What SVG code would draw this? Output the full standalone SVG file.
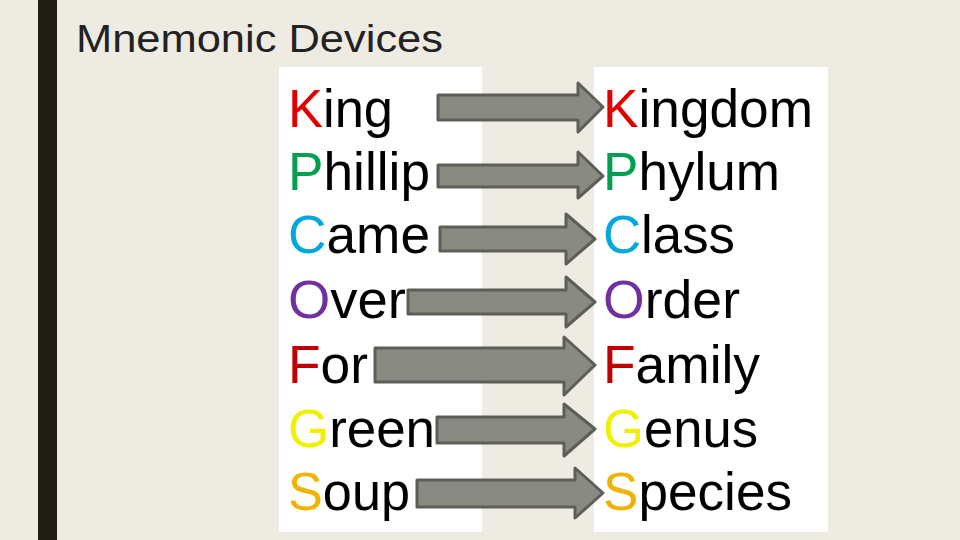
<svg xmlns="http://www.w3.org/2000/svg" width="960" height="540" viewBox="0 0 960 540">
<style>
text{font-family:"Liberation Sans",Arial,sans-serif}
.w{font-size:54px;fill:#000}
.a{fill:#8A8A84;stroke:#5E5E58;stroke-width:3;stroke-linejoin:round}
.r{fill:#E00000}.g{fill:#00A050}.b{fill:#00A8DC}.p{fill:#7030A0}.d{fill:#C00000}.y{fill:#F0F000}.o{fill:#F0B400}
</style>
<rect width="960" height="540" fill="#EEEBE3"/>
<rect x="38" y="0" width="19" height="540" fill="#1E1E14"/>
<text x="76" y="52" font-size="38" fill="#222" textLength="367" lengthAdjust="spacingAndGlyphs">Mnemonic Devices</text>
<rect x="279" y="67" width="203" height="465" fill="#fff"/>
<rect x="594" y="67" width="234" height="465" fill="#fff"/>
<g id="connectors">
<path class="a" d="M438,95H578V83L603,107L578,132V120H438Z"/>
<path class="a" d="M438,165H578V152L603,176L578,198V187H438Z"/>
<path class="a" d="M440,227H566V214L595,239L566,264V251H440Z"/>
<path class="a" d="M408,290H566V277L595,302L566,327V314H408Z"/>
<path class="a" d="M375,348H564V337L595,365L564,395V382H375Z"/>
<path class="a" d="M437,417H564V404L595,429L564,456V443H437Z"/>
<path class="a" d="M417,480H575V468L603,493L575,518V507H417Z"/>
</g>
<g id="left">
<text class="w" x="288" y="127" textLength="105" lengthAdjust="spacingAndGlyphs"><tspan class="r">K</tspan>ing</text>
<text class="w" x="288" y="190" textLength="142" lengthAdjust="spacingAndGlyphs"><tspan class="g">P</tspan>hillip</text>
<text class="w" x="288" y="253" textLength="142" lengthAdjust="spacingAndGlyphs"><tspan class="b">C</tspan>ame</text>
<text class="w" x="288" y="318" textLength="118" lengthAdjust="spacingAndGlyphs"><tspan class="p">O</tspan>ver</text>
<text class="w" x="288" y="383" textLength="80" lengthAdjust="spacingAndGlyphs"><tspan class="d">F</tspan>or</text>
<text class="w" x="288" y="447" textLength="147" lengthAdjust="spacingAndGlyphs"><tspan class="y">G</tspan>reen</text>
<text class="w" x="288" y="510" textLength="122" lengthAdjust="spacingAndGlyphs"><tspan class="o">S</tspan>oup</text>
</g>
<g id="right">
<text class="w" x="603" y="127" textLength="210" lengthAdjust="spacingAndGlyphs"><tspan class="r">K</tspan>ingdom</text>
<text class="w" x="603" y="190" textLength="177" lengthAdjust="spacingAndGlyphs"><tspan class="g">P</tspan>hylum</text>
<text class="w" x="603" y="253" textLength="132" lengthAdjust="spacingAndGlyphs"><tspan class="b">C</tspan>lass</text>
<text class="w" x="603" y="318" textLength="137" lengthAdjust="spacingAndGlyphs"><tspan class="p">O</tspan>rder</text>
<text class="w" x="603" y="383" textLength="157" lengthAdjust="spacingAndGlyphs"><tspan class="d">F</tspan>amily</text>
<text class="w" x="603" y="447" textLength="155" lengthAdjust="spacingAndGlyphs"><tspan class="y">G</tspan>enus</text>
<text class="w" x="603" y="510" textLength="189" lengthAdjust="spacingAndGlyphs"><tspan class="o">S</tspan>pecies</text>
</g>
</svg>
